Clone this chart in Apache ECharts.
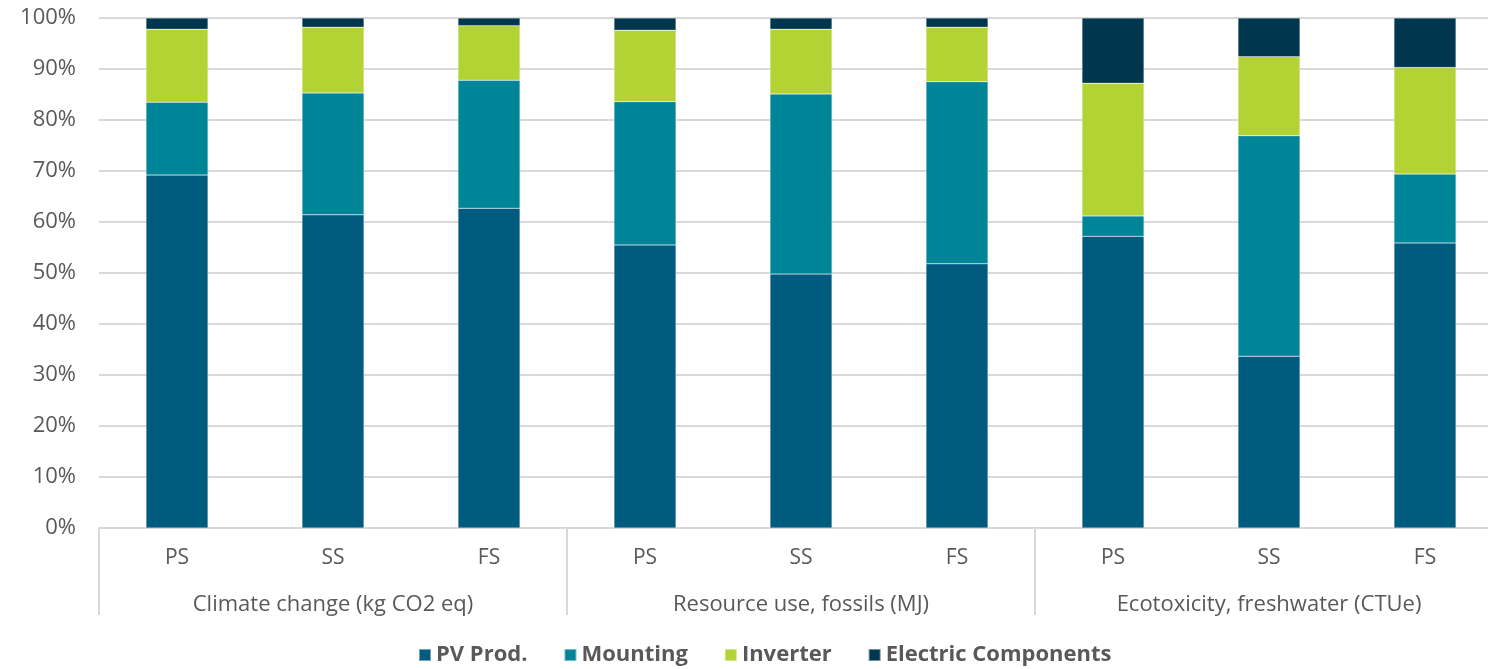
<!DOCTYPE html>
<html lang="en">
  <head>
    <meta charset="UTF-8" />
    <title>Stacked shares</title>
    <script src="https://cdn.jsdelivr.net/npm/echarts@6/dist/echarts.min.js"></script>
    <style>
      html, body { margin: 0; padding: 0; background: #fff; }
      #chart { width: 1488px; height: 669px; }
    </style>
  </head>
  <body>
    <div id="chart"></div>
    <script>
      const categories = ["PS", "SS", "FS", "PS", "SS", "FS", "PS", "SS", "FS"];
      const groups = [
        "Climate change (kg CO2 eq)",
        "Resource use, fossils (MJ)",
        "Ecotoxicity, freshwater (CTUe)",
      ];
      const pvProd = [69.2, 61.4, 62.7, 55.5, 49.8, 51.8, 57.2, 33.7, 55.9];
      const mounting = [14.3, 23.9, 25.1, 28.1, 35.3, 35.7, 4.0, 43.2, 13.5];
      const inverter = [14.3, 12.9, 10.7, 14.0, 12.7, 10.7, 26.0, 15.5, 20.9];
      const electric = [2.2, 1.8, 1.5, 2.4, 2.2, 1.8, 12.8, 7.6, 9.7];

      const textColor = "#595959";
      const lineColor = "#d9d9d9";
      const font = "'Open Sans', 'Noto Sans', sans-serif";

      const chart = echarts.init(document.getElementById("chart"));

      // 一个系列一个颜色
      const makeSeries = (name, data, color) => ({
        name: name,
        type: "bar",
        stack: "total",
        xAxisIndex: 0,
        barWidth: 62,
        data: data,
        itemStyle: {
          color: color,
          borderColor: "rgba(255,255,255,0.45)",
          borderWidth: 0.5,
        },
      });

      const option = {
        backgroundColor: "#fff",
        animation: false,
        grid: {
          left: 99,
          width: 1404, // 图表右侧超出画布
          top: 18,
          bottom: 141,
          outerBoundsMode: "none",
        },
        legend: {
          left: 413,
          top: 639,
          icon: "rect",
          itemWidth: 12,
          itemHeight: 12,
          itemGap: 36,
          textStyle: {
            color: textColor,
            fontFamily: font,
            fontWeight: "bold",
            fontSize: 22,
          },
        },
        xAxis: [
          {
            type: "category",
            data: categories,
            position: "bottom",
            axisLine: { show: true, lineStyle: { color: lineColor, width: 2 } },
            axisTick: { show: false },
            axisLabel: {
              color: textColor,
              fontFamily: font,
              fontSize: 21,
              margin: 20,
            },
          },
          {
            type: "category",
            data: groups,
            position: "bottom",
            axisLine: { show: false },
            axisTick: {
              show: true,
              interval: 0,
              length: 87,
              lineStyle: { color: lineColor, width: 2 },
            },
            axisLabel: {
              color: textColor,
              fontFamily: font,
              fontSize: 22,
              margin: 66,
            },
          },
        ],
        yAxis: {
          type: "value",
          min: 0,
          max: 100,
          interval: 10,
          axisLine: { show: false },
          axisTick: { show: false },
          axisLabel: {
            formatter: "{value}%",
            color: textColor,
            fontFamily: font,
            fontSize: 22,
            margin: 23,
          },
          splitLine: { lineStyle: { color: lineColor, width: 2 } },
        },
        series: [
          makeSeries("PV Prod.", pvProd, "#005b7f"),
          makeSeries("Mounting", mounting, "#008598"),
          makeSeries("Inverter", inverter, "#b3d335"),
          makeSeries("Electric Components", electric, "#00374e"),
        ],
      };

      chart.setOption(option);
    </script>
  </body>
</html>
